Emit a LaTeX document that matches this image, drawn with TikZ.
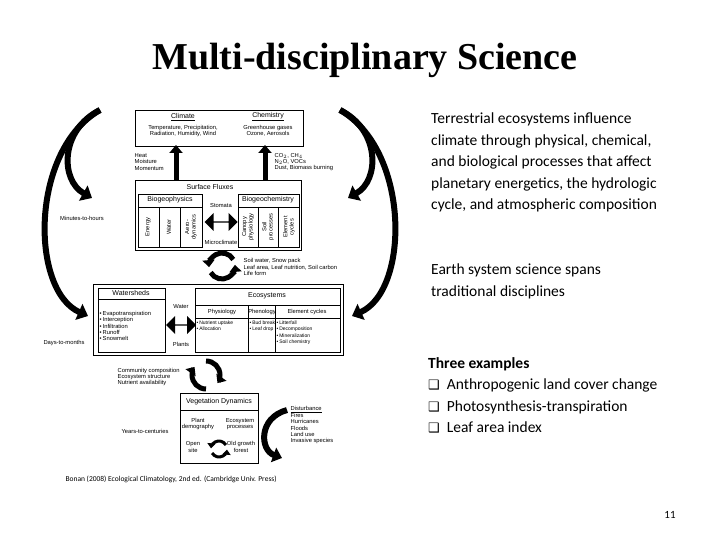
\documentclass[tikz,border=0pt]{standalone}
\usepackage{fontspec}
\setmainfont{Liberation Serif}
\newfontfamily\fsans{Liberation Sans}
\newfontfamily\fcal{Carlito}
\newfontfamily\fdv{DejaVu Sans}
\usetikzlibrary{arrows.meta,shapes.arrows}
\newcommand{\bul}{•\,}
\begin{document}
\begin{tikzpicture}[x=1pt,y=-1pt,
  tiny/.style={font=\fsans\fontsize{5.8}{6.4}\selectfont,inner sep=0.5pt,align=center},
  tinyl/.style={tiny,align=left,anchor=west},
  small/.style={tinyl,font=\fsans\fontsize{5}{6.4}\selectfont,anchor=north west},
  hdr/.style={font=\fsans\fontsize{7}{8}\selectfont,inner sep=0.5pt},
  bx/.style={draw,line width=0.6pt},
  fat/.style={line width=5pt,-{Triangle[length=8pt,width=13pt]}},
  circ/.style={line width=5pt,-{Triangle[length=7pt,width=12pt]}},
  rt/.style={font=\fcal\fontsize{15.5}{21.5}\selectfont,anchor=north west,align=left,inner sep=0}]
\useasboundingbox (0,0) rectangle (720,540);
\fill[white] (0,0) rectangle (720,540);
\node (title) at (365,60) {\fontsize{38}{40}\selectfont\bfseries Multi-disciplinary Science};
% top box
\node[bx,minimum width=168,minimum height=36] (top) at (219,128) {};
\node[hdr] (clim) at (183,117) {\underline{Climate}};
\node[tiny] (climt) at (183,131) {Temperature, Precipitation,\\Radiation, Humidity, Wind};
\node[hdr] (chem) at (268,117) {\underline{Chemistry}};
\node[tiny] (chemt) at (268,131) {Greenhouse gases\\Ozone, Aerosols};
\node[tinyl] (heat) at (134,162) {Heat\\Moisture\\Momentum};
\node[tinyl] (co2) at (274,162) {CO$_2$, CH$_4$\\N$_2$O, VOCs\\Dust, Biomass burning};
% surface fluxes
\node[bx,minimum width=166,minimum height=70] (sf) at (218,215) {};
\node[hdr] (sft) at (210,187) {Surface Fluxes};
\node[bx,minimum width=64,minimum height=53,anchor=north west] (bgp) at (138,194) {};
\draw (138,207) -- (202,207);
\node[hdr] at (170,200) {Biogeophysics};
\draw (159,207) -- (159,247) (180,207) -- (180,247);
\node[tiny,rotate=90] at (148,227) {Energy};
\node[tiny,rotate=90] at (169,227) {Water};
\node[tiny,rotate=90] at (191,227) {Aero-\\dynamics};
\node[bx,minimum width=61,minimum height=53,anchor=north west] (bgc) at (238,194) {};
\draw (238,207) -- (299,207);
\node[hdr] at (268,200) {Biogeochemistry};
\draw (258,207) -- (258,247) (278,207) -- (278,247);
\node[tiny,rotate=90] at (248,227) {Canopy\\physiology};
\node[tiny,rotate=90] at (268,227) {Soil\\processes};
\node[tiny,rotate=90] at (289,227) {Element\\cycles};
\node[tiny] (stom) at (221,206) {Stomata};
\node[tiny] (micro) at (221,242) {Microclimate};
\node[double arrow,fill=black,minimum width=18,minimum height=33,double arrow head extend=3,inner sep=0] (da1) at (221,222) {};
% up arrows
\draw[fat] (sf.north -| 176,0) -- (176,145);
\draw[fat] (sf.north -| 265,0) -- (265,145);
% circ arrows 1
\coordinate (c1) at (222,266);
\draw[circ] ([shift={(11.3,-6.5)}]c1) arc[start angle=-30,end angle=-185,radius=13];
\draw[circ] ([shift={(-11.3,6.5)}]c1) arc[start angle=150,end angle=-5,radius=13];
\node[tinyl] (soil) at (243,267) {Soil water, Snow pack\\Leaf area, Leaf nutrition, Soil carbon\\Life form};
% big middle box
\node[bx,minimum width=250,minimum height=71,anchor=north west] (mid) at (93,284) {};
\node[bx,minimum width=67,minimum height=64,anchor=north west] (ws) at (98,288) {};
\draw (98,299) -- (165,299);
\node[hdr] at (131,293) {Watersheds};
\node[tinyl] at (99,326) {\bul Evapotranspiration\\\bul Interception\\\bul Infiltration\\\bul Runoff\\\bul Snowmelt};
\node[bx,minimum width=145,minimum height=64,anchor=north west] (eco) at (195,288) {};
\draw (195,305) -- (340,305) (195,318) -- (340,318) (248,305) -- (248,352) (275,305) -- (275,352);
\node[hdr] at (267,296) {Ecosystems};
\node[tiny] at (222,312) {Physiology};
\node[tiny] at (262,312) {Phenology};
\node[tiny] at (307,312) {Element cycles};
\node[small] at (196,320) {\bul Nutrient uptake\\\bul Allocation};
\node[small] at (249,320) {\bul Bud break\\\bul Leaf drop};
\node[small] at (276,320) {\bul Litterfall\\\bul Decomposition\\\bul Mineralization\\\bul Soil chemistry};
\node[tiny] (water) at (181,307) {Water};
\node[tiny] (plants) at (181,344) {Plants};
\node[double arrow,fill=black,minimum width=18,minimum height=30,double arrow head extend=3,inner sep=0] (da2) at (181,325) {};
% circ arrows 2
\coordinate (c2) at (206,375);
\draw[circ] ([shift={(0,14)}]c2) arc[start angle=90,end angle=215,radius=14];
\draw[circ] ([shift={(0,-14)}]c2) arc[start angle=-90,end angle=35,radius=14];
\node[tinyl] (comm) at (117,377) {Community composition\\Ecosystem structure\\Nutrient availability};
% vegetation dynamics
\node[bx,minimum width=78,minimum height=70,anchor=north west] (veg) at (180,393) {};
\draw (180,410) -- (258,410);
\node[hdr] at (219,402) {Vegetation Dynamics};
\node[tiny] at (198,424) {Plant\\demography};
\node[tiny] at (240,424) {Ecosystem\\processes};
\node[tiny] at (193,447) {Open\\site};
\node[tiny] at (241,447) {Old growth\\forest};
\coordinate (c3) at (219,449);
\draw[line width=3pt,-{Triangle[length=5pt,width=8pt]}] ([shift={(6.9,-4)}]c3) arc[start angle=-30,end angle=-175,radius=8];
\draw[line width=3pt,-{Triangle[length=5pt,width=8pt]}] ([shift={(-6.9,4)}]c3) arc[start angle=150,end angle=5,radius=8];
\draw[line width=6pt,-{Triangle[length=9pt,width=15pt]}] (287,410) .. controls (258,418) and (260,450) .. (282,458);
\node[tinyl,anchor=north west] (dist) at (290,406) {\underline{Disturbance}\\Fires\\Hurricanes\\Floods\\Land use\\Invasive species};
% time scales
\node[tiny] (mth) at (82,218) {Minutes-to-hours};
\node[tiny] (dtm) at (64,343) {Days-to-months};
\node[tiny] (ytc) at (145,431) {Years-to-centuries};
\draw[line width=6pt,-{Triangle[length=10pt,width=17pt]}] (100,110) .. controls (60,130) and (60,180) .. (92,198);
\draw[line width=6pt,-{Triangle[length=10pt,width=17pt]}] (100,110) .. controls (30,150) and (30,290) .. (88,316);
\draw[line width=6pt,-{Triangle[length=10pt,width=17pt]}] (340,110) .. controls (380,130) and (380,180) .. (348,198);
\draw[line width=6pt,-{Triangle[length=10pt,width=17pt]}] (340,110) .. controls (410,150) and (410,290) .. (352,316);
\node[font=\fcal\fontsize{7.5}{8}\selectfont,anchor=west] (src) at (62,479) {Bonan (2008) Ecological Climatology, 2nd ed. (Cambridge Univ. Press)};
% right text
\node[rt] (t1) at (431,113) {Terrestrial ecosystems influence\\climate through physical, chemical,\\and biological processes that affect\\planetary energetics, the hydrologic\\cycle, and atmospheric composition};
\node[rt] (t2) at (431,264) {Earth system science spans\\traditional disciplines};
\node[rt] (t3) at (428,357) {\bfseries Three examples\\{\fdv\fontsize{13}{21}\selectfont ❑}\ \ Anthropogenic land cover change\\{\fdv\fontsize{13}{21}\selectfont ❑}\ \ Photosynthesis-transpiration\\{\fdv\fontsize{13}{21}\selectfont ❑}\ \ Leaf area index};
\node[font=\fcal\fontsize{11}{12}\selectfont] (pg) at (670,515) {11};
\end{tikzpicture}
\end{document}
